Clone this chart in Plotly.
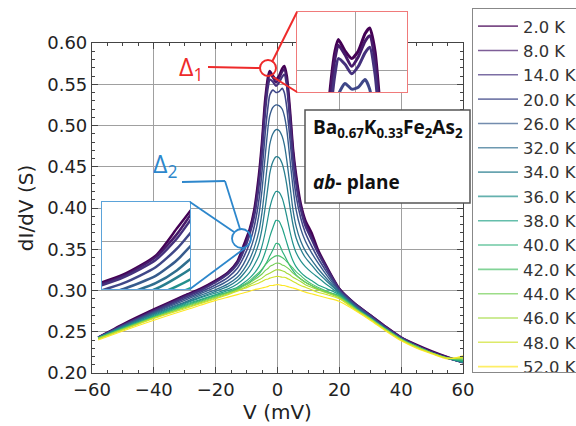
import plotly.graph_objects as go
from plotly.colors import sample_colorscale

# ---------------- data ----------------
V = [-58, -50, -40, -30, -25, -20, -16, -13, -11, -9, -7.5, -6, -5, -4, -3, -2.5, -1.5, -0.5, 0.5, 1.5,
     2.2, 3, 4, 5, 6, 7.5, 9, 11, 13, 16, 20, 25, 30, 35, 40, 45, 50, 55, 60]

labels = ["2.0 K", "8.0 K", "14.0 K", "20.0 K", "26.0 K", "32.0 K", "34.0 K", "36.0 K",
          "38.0 K", "40.0 K", "42.0 K", "44.0 K", "46.0 K", "48.0 K", "52.0 K"]

g02 = [0.243, 0.259, 0.277, 0.294, 0.302, 0.312, 0.322, 0.335, 0.354, 0.374, 0.398, 0.440, 0.480, 0.530, 0.560, 0.566, 0.560, 0.556, 0.560, 0.569,
       0.572, 0.560, 0.520, 0.472, 0.440, 0.405, 0.385, 0.370, 0.350, 0.328, 0.302, 0.284, 0.270, 0.256, 0.243, 0.234, 0.226, 0.219, 0.213]
g08 = [0.243, 0.258, 0.276, 0.293, 0.301, 0.311, 0.321, 0.334, 0.350, 0.372, 0.395, 0.435, 0.475, 0.525, 0.556, 0.563, 0.558, 0.552, 0.557, 0.565,
       0.568, 0.555, 0.515, 0.468, 0.436, 0.402, 0.382, 0.365, 0.348, 0.327, 0.302, 0.284, 0.270, 0.256, 0.243, 0.233, 0.225, 0.219, 0.213]
g14 = [0.243, 0.258, 0.275, 0.292, 0.300, 0.310, 0.320, 0.332, 0.347, 0.368, 0.390, 0.428, 0.468, 0.515, 0.548, 0.556, 0.553, 0.548, 0.552, 0.559,
       0.562, 0.548, 0.508, 0.462, 0.430, 0.398, 0.378, 0.362, 0.346, 0.326, 0.301, 0.284, 0.269, 0.255, 0.243, 0.233, 0.225, 0.218, 0.213]
g20 = [0.243, 0.257, 0.274, 0.290, 0.298, 0.307, 0.316, 0.327, 0.340, 0.358, 0.378, 0.410, 0.445, 0.490, 0.525, 0.537, 0.543, 0.540, 0.541, 0.545,
       0.540, 0.522, 0.485, 0.445, 0.415, 0.388, 0.370, 0.354, 0.340, 0.322, 0.300, 0.283, 0.269, 0.255, 0.242, 0.233, 0.225, 0.218, 0.213]
g26 = [0.243, 0.257, 0.273, 0.288, 0.296, 0.304, 0.312, 0.321, 0.332, 0.348, 0.365, 0.392, 0.422, 0.462, 0.500, 0.512, 0.522, 0.525, 0.524, 0.520,
       0.512, 0.495, 0.460, 0.425, 0.398, 0.375, 0.360, 0.346, 0.334, 0.318, 0.299, 0.282, 0.268, 0.254, 0.242, 0.232, 0.224, 0.218, 0.213]
g32 = [0.243, 0.256, 0.272, 0.286, 0.294, 0.301, 0.308, 0.316, 0.325, 0.338, 0.352, 0.372, 0.395, 0.428, 0.462, 0.477, 0.490, 0.495, 0.494, 0.487,
       0.477, 0.458, 0.428, 0.398, 0.378, 0.360, 0.348, 0.337, 0.327, 0.314, 0.298, 0.281, 0.267, 0.254, 0.241, 0.232, 0.224, 0.218, 0.213]
g34 = [0.243, 0.256, 0.271, 0.285, 0.292, 0.299, 0.305, 0.312, 0.320, 0.330, 0.342, 0.358, 0.375, 0.400, 0.428, 0.442, 0.456, 0.462, 0.461, 0.454,
       0.444, 0.428, 0.402, 0.380, 0.364, 0.350, 0.340, 0.331, 0.322, 0.311, 0.297, 0.280, 0.267, 0.253, 0.241, 0.232, 0.224, 0.218, 0.213]
g36 = [0.243, 0.255, 0.270, 0.284, 0.291, 0.297, 0.302, 0.308, 0.314, 0.322, 0.331, 0.342, 0.354, 0.370, 0.390, 0.400, 0.413, 0.420, 0.419, 0.412,
       0.403, 0.390, 0.372, 0.357, 0.346, 0.336, 0.329, 0.322, 0.316, 0.307, 0.296, 0.280, 0.266, 0.253, 0.241, 0.232, 0.224, 0.218, 0.214]
g38 = [0.242, 0.255, 0.269, 0.283, 0.289, 0.295, 0.300, 0.304, 0.309, 0.315, 0.321, 0.329, 0.336, 0.346, 0.358, 0.365, 0.376, 0.385, 0.384, 0.376,
       0.368, 0.358, 0.346, 0.336, 0.329, 0.322, 0.317, 0.312, 0.307, 0.302, 0.295, 0.279, 0.266, 0.253, 0.241, 0.232, 0.224, 0.218, 0.214]
g40 = [0.242, 0.254, 0.268, 0.282, 0.288, 0.294, 0.298, 0.302, 0.306, 0.310, 0.315, 0.320, 0.325, 0.331, 0.338, 0.342, 0.349, 0.357, 0.356, 0.348,
       0.343, 0.337, 0.330, 0.324, 0.319, 0.314, 0.310, 0.306, 0.302, 0.298, 0.294, 0.279, 0.266, 0.253, 0.241, 0.232, 0.224, 0.218, 0.215]
g42 = [0.242, 0.254, 0.268, 0.281, 0.287, 0.293, 0.298, 0.303, 0.307, 0.312, 0.317, 0.322, 0.326, 0.331, 0.335, 0.337, 0.340, 0.342, 0.342, 0.340,
       0.338, 0.335, 0.331, 0.327, 0.323, 0.318, 0.313, 0.308, 0.304, 0.299, 0.293, 0.279, 0.266, 0.253, 0.241, 0.232, 0.224, 0.218, 0.216]
g44 = [0.242, 0.253, 0.267, 0.280, 0.286, 0.292, 0.297, 0.301, 0.305, 0.309, 0.313, 0.317, 0.320, 0.324, 0.327, 0.329, 0.331, 0.333, 0.333, 0.331,
       0.330, 0.328, 0.325, 0.321, 0.318, 0.314, 0.310, 0.306, 0.302, 0.298, 0.292, 0.278, 0.266, 0.253, 0.241, 0.232, 0.224, 0.218, 0.217]
g46 = [0.242, 0.253, 0.267, 0.279, 0.285, 0.291, 0.296, 0.300, 0.303, 0.307, 0.310, 0.313, 0.315, 0.318, 0.320, 0.321, 0.323, 0.325, 0.325, 0.324,
       0.323, 0.321, 0.319, 0.316, 0.314, 0.311, 0.307, 0.304, 0.301, 0.297, 0.291, 0.278, 0.265, 0.252, 0.240, 0.231, 0.224, 0.218, 0.218]
g48 = [0.241, 0.252, 0.266, 0.278, 0.284, 0.290, 0.295, 0.299, 0.302, 0.305, 0.307, 0.309, 0.311, 0.313, 0.314, 0.315, 0.316, 0.317, 0.317, 0.316,
       0.316, 0.315, 0.313, 0.311, 0.309, 0.306, 0.304, 0.301, 0.298, 0.295, 0.290, 0.277, 0.265, 0.252, 0.240, 0.231, 0.224, 0.218, 0.219]
g52 = [0.240, 0.251, 0.264, 0.276, 0.282, 0.288, 0.292, 0.295, 0.297, 0.299, 0.301, 0.302, 0.303, 0.304, 0.305, 0.306, 0.306, 0.307, 0.307, 0.306,
       0.306, 0.305, 0.304, 0.303, 0.302, 0.300, 0.298, 0.296, 0.294, 0.291, 0.287, 0.276, 0.264, 0.251, 0.239, 0.230, 0.223, 0.217, 0.221]

series = [g02, g08, g14, g20, g26, g32, g34, g36, g38, g40, g42, g44, g46, g48, g52]

x_ticks = [-60, -40, -20, 0, 20, 40, 60]
y_ticks = [0.20, 0.25, 0.30, 0.35, 0.40, 0.45, 0.50, 0.55, 0.60]

# ---------------- layout helpers (pixel -> paper) ----------------
L, R, T, B = 92, 463, 8, 373
def px(x):
    return (x - L) / (R - L)
def py(y):
    return (B - y) / (B - T)

colors = sample_colorscale("Viridis", [i / (len(series) - 1) for i in range(len(series))])
widths = [2.6, 2.2, 2.0, 1.6, 1.4, 1.3, 1.3, 1.2, 1.2, 1.2, 1.1, 1.1, 1.1, 1.1, 1.1]

fig = go.Figure()
for i, (lab, g) in enumerate(zip(labels, series)):
    fig.add_trace(go.Scatter(x=V, y=g, mode="lines", name=lab, showlegend=False,
                             line=dict(color=colors[i], width=widths[i], shape="spline", smoothing=0.6),
                             xaxis="x", yaxis="y"))
# legend entries (thin swatches)
for i, lab in enumerate(labels):
    fig.add_trace(go.Scatter(x=[None], y=[None], mode="lines", name=lab, opacity=0.7,
                             line=dict(color=colors[i], width=1.6), xaxis="x", yaxis="y"))
for i, g in enumerate(series):
    fig.add_trace(go.Scatter(x=V, y=g, mode="lines", showlegend=False, hoverinfo="skip",
                             line=dict(color=colors[i], width=3, shape="spline", smoothing=0.6),
                             xaxis="x2", yaxis="y2"))
for i, g in enumerate(series):
    fig.add_trace(go.Scatter(x=V, y=g, mode="lines", showlegend=False, hoverinfo="skip",
                             line=dict(color=colors[i], width=2.5, shape="spline", smoothing=0.6),
                             xaxis="x3", yaxis="y3"))

font_main = "DejaVu Sans"
axis_common = dict(showline=True, linecolor="#444", linewidth=1.2, mirror="allticks",
                   ticks="inside", ticklen=6, tickcolor="#444", showgrid=True,
                   gridcolor="#a0a0a0", gridwidth=1, zeroline=False,
                   tickfont=dict(family=font_main, size=18, color="#222"))

fig.update_layout(
    width=576, height=426,
    margin=dict(l=L, r=576 - R, t=T, b=426 - B, autoexpand=False),
    paper_bgcolor="white", plot_bgcolor="white",
    xaxis=dict(domain=[0, 1], range=[-60, 60], tickvals=x_ticks,
               minor=dict(ticks="inside", ticklen=3, dtick=5, tick0=0, tickcolor="#444", showgrid=False),
               title=dict(text="V (mV)", font=dict(family=font_main, size=20, color="#222"), standoff=3),
               anchor="y", **axis_common),
    yaxis=dict(domain=[0, py(43)], range=[0.2, 0.6], tickvals=y_ticks, tickformat=".2f",
               minor=dict(ticks="inside", ticklen=3, dtick=0.01, tick0=0.2, tickcolor="#444", showgrid=False),
               title=dict(text="dI/dV (S)", font=dict(family=font_main, size=20, color="#222"), standoff=8),
               anchor="x", **axis_common),
    xaxis2=dict(domain=[px(297), px(407)], range=[-8.7, 7.8], anchor="y2", tickvals=[0],
                showticklabels=False, ticks="", showgrid=True, gridcolor="#a0a0a0", zeroline=False,
                showline=True, mirror=True, linecolor="#f07a7a", linewidth=1.2),
    yaxis2=dict(domain=[py(92), py(12)], range=[0.5385, 0.5804], anchor="x2", tickvals=[0.55],
                showticklabels=False, ticks="", showgrid=True, gridcolor="#a0a0a0", zeroline=False,
                showline=True, mirror=True, linecolor="#f07a7a", linewidth=1.2),
    xaxis3=dict(domain=[px(102), px(190)], range=[-18, -9.8], anchor="y3", tickvals=[],
                showticklabels=False, ticks="", showgrid=False, zeroline=False,
                showline=True, mirror=True, linecolor="#5ba3d9", linewidth=1.2),
    yaxis3=dict(domain=[py(289), py(202)], range=[0.312, 0.372], anchor="x3", tickvals=[0.345],
                showticklabels=False, ticks="", showgrid=True, gridcolor="#a0a0a0", zeroline=False,
                showline=True, mirror=True, linecolor="#5ba3d9", linewidth=1.2),
    legend=dict(x=px(472), y=1.0, xanchor="left", yanchor="top", itemwidth=40,
                bgcolor="white", bordercolor="#888", borderwidth=1,
                font=dict(family=font_main, size=16.4, color="#333")),
    showlegend=True,
)

shapes = [
    # opaque inset backgrounds
    dict(type="rect", xref="x2 domain", yref="y2 domain", x0=0, x1=1, y0=0, y1=1,
         fillcolor="white", line=dict(width=0), layer="below"),
    dict(type="rect", xref="x3 domain", yref="y3 domain", x0=0, x1=1, y0=0, y1=1,
         fillcolor="white", line=dict(width=0), layer="below"),
    # compound text box
    dict(type="rect", xref="paper", yref="paper", x0=px(305), x1=px(470), y0=py(203), y1=py(110),
         fillcolor="white", line=dict(color="#555", width=1.5), layer="above"),
    # Delta 1 (red)
    dict(type="line", xref="paper", yref="paper", x0=px(208), y0=py(67), x1=px(260), y1=py(68),
         line=dict(color="#ee2a2a", width=2), layer="above"),
    dict(type="circle", xref="paper", yref="paper", x0=px(260), x1=px(276), y0=py(76), y1=py(60),
         line=dict(color="#ee2a2a", width=2), layer="above"),
    dict(type="line", xref="paper", yref="paper", x0=px(272), y0=py(62), x1=px(297), y1=py(12),
         line=dict(color="#ee2a2a", width=2), layer="above"),
    dict(type="line", xref="paper", yref="paper", x0=px(273), y0=py(77), x1=px(297), y1=py(92),
         line=dict(color="#ee2a2a", width=2), layer="above"),
    # Delta 2 (blue)
    dict(type="line", xref="paper", yref="paper", x0=px(182), y0=py(182), x1=px(225), y1=py(181),
         line=dict(color="#2d87cc", width=1.8), layer="above"),
    dict(type="line", xref="paper", yref="paper", x0=px(225), y0=py(181), x1=px(240), y1=py(229),
         line=dict(color="#2d87cc", width=1.8), layer="above"),
    dict(type="circle", xref="paper", yref="paper", x0=px(232), x1=px(251), y0=py(248), y1=py(229),
         line=dict(color="#2d87cc", width=1.8), layer="above"),
    dict(type="line", xref="paper", yref="paper", x0=px(190), y0=py(202), x1=px(234), y1=py(232),
         line=dict(color="#2d87cc", width=1.8), layer="above"),
    dict(type="line", xref="paper", yref="paper", x0=px(190), y0=py(289), x1=px(245), y1=py(248),
         line=dict(color="#2d87cc", width=1.8), layer="above"),
]
fig.update_layout(shapes=shapes)

ann_font = "Open Sans"
fig.update_layout(annotations=[
    dict(xref="paper", yref="paper", x=px(191), y=py(67), text="Δ<sub>1</sub>", showarrow=False,
         xanchor="center", yanchor="middle", font=dict(family=ann_font, size=25, color="#ee2a2a")),
    dict(xref="paper", yref="paper", x=px(165), y=py(164), text="Δ<sub>2</sub>", showarrow=False,
         xanchor="center", yanchor="middle", font=dict(family=ann_font, size=25, color="#2d87cc")),
    dict(xref="paper", yref="paper", x=px(311), y=py(128),
         text="<b>Ba<sub>0.67</sub>K<sub>0.33</sub>Fe<sub>2</sub>As<sub>2</sub></b>", showarrow=False,
         xanchor="left", yanchor="middle", font=dict(family=ann_font, size=19, color="#111")),
    dict(xref="paper", yref="paper", x=px(311), y=py(182),
         text="<b><i>ab</i>- plane</b>", showarrow=False,
         xanchor="left", yanchor="middle", font=dict(family=ann_font, size=19, color="#111")),
])

fig.write_html("out.html", config={"displayModeBar": False},
               post_script="document.body.style.margin='0';document.body.style.padding='0';")
